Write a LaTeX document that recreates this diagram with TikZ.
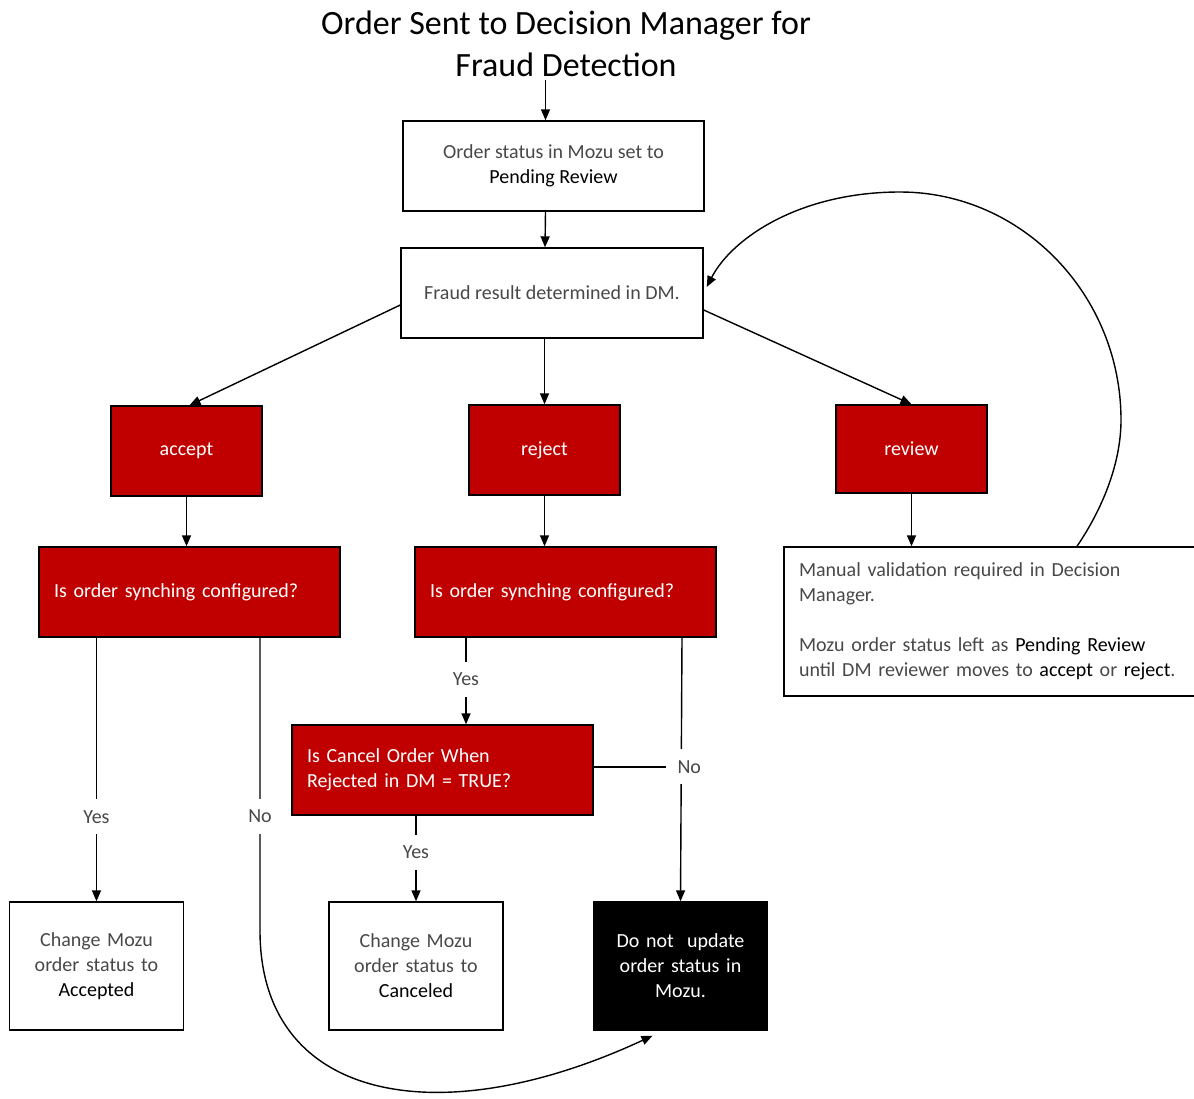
\documentclass[tikz,border=0pt]{standalone}
\usepackage{fontspec}
\setmainfont{Carlito}
\usetikzlibrary{
    positioning,      % below=of, etc.
    arrows.meta,      % Triangle tips
    calc
}
\definecolor{oraclered}{RGB}{192,0,0}
\definecolor{lighttext}{RGB}{72,72,72}
\newcommand{\keyword}[1]{\textcolor{black}{#1}}
\tikzset{
    box/.style={
        rectangle, draw, line width=1.4pt,
        minimum width=301pt, minimum height=90pt,
        align=center, inner sep=4pt, text=lighttext,
        font=\fontsize{20}{25}\selectfont
    },
    redbox/.style={
        box, fill=oraclered, text=white, minimum width=151pt
    },
    question/.style={
        box, fill=oraclered, text=white,
        align=left, text width=271pt, inner xsep=15pt
    },
    endbox/.style={
        box, minimum width=174pt, minimum height=128pt, text width=150pt
    },
    flow/.style={
        -{Triangle[length=11pt,width=9pt]}, line width=1.4pt
    },
    link/.style={
        line width=1.4pt
    },
    answer/.style={
        font=\fontsize{20}{25}\selectfont, text=lighttext,
        fill=white, inner sep=11pt
    }
}

\begin{document}
\begin{tikzpicture}[x=1pt, y=-1pt]
    \useasboundingbox (0,0) rectangle (1194,1098);

    % titulo y cabecera
    \node[font=\fontsize{34}{42}\selectfont, align=center] (title) at (566,44)
        {Order Sent to Decision Manager for\\Fraud Detection};
    \node[box] (order) at (553.5,166) {Order status in Mozu set to\\\keyword{Pending Review}};
    \node[box, minimum width=302pt] (fraud) at (552,293) {Fraud result determined in DM.};

    % resultados
    \node[redbox] (accept) at (186.5,451) {\raisebox{-3pt}{accept}};
    \node[redbox] (reject) at (544.5,450) {\raisebox{-2pt}{reject}};
    \node[redbox, minimum height=88pt] (review) at (911.5,449) {\raisebox{-2pt}{review}};

    % preguntas
    \node[question] (syncA)  at (189.5,592) {Is order synching configured?};
    \node[question] (syncR)  at (565.5,592) {Is order synching configured?};
    \node[question] (cancel) at (442.5,770) {Is Cancel Order When\\Rejected in DM = TRUE?};
    \node[box, align=left, text width=382pt, inner xsep=15pt, minimum height=149pt] (note) at (990,621.5)
        {Manual validation required in Decision\\Manager.\\[25pt]
         Mozu order status left as \keyword{Pending Review}\\
         until DM reviewer moves to \keyword{accept} or \keyword{reject}.};

    % estados finales
    \node[endbox] (accepted) at (96.5,966) {Change Mozu\\order status to\\\keyword{Accepted}};
    \node[endbox] (canceled) at (416,966)  {Change Mozu\\order status to\\\keyword{Canceled}};
    \node[endbox, fill=black, text=white] (noupdate) at (680.5,966) {Do not~ update\\order status in\\Mozu.};

    \draw[flow] ([xshift=-8pt]order.north |- title.south) -- ([xshift=-8pt]order.north);
    \draw[flow] ([xshift=-8pt]order.south) -- ([xshift=-7pt]fraud.north);
    \draw[flow] ([yshift=-12pt]fraud.west) -- ([xshift=3pt]accept.north);
    \draw[flow] (reject.north |- fraud.south) -- (reject.north);
    \draw[flow] ([yshift=-17pt]fraud.east) -- (review.north);
    \draw[flow] (accept.south) -- (accept.south |- syncA.north);
    \draw[flow] (reject.south) -- (reject.south |- syncR.north);
    \draw[flow] (review.south) -- (review.south |- note.north);

    % accept: si / no
    \draw[flow] (accepted.north |- syncA.south) -- node[answer, pos=0.68] {Yes} (accepted.north);
    \draw[flow] ([xshift=70.5pt]syncA.south) -- node[answer, pos=0.61] {No} ++(0,293)
        .. controls +(0,170) and +(-215,100) .. ([xshift=-28pt,yshift=-5pt]noupdate.south);

    % reject: si / no
    \draw[flow] ([xshift=-99.5pt]syncR.south) -- node[answer, pos=0.48] {Yes}
        ([xshift=-99.5pt]syncR.south |- cancel.north);
    \draw[flow] ([xshift=116.5pt]syncR.south) -- (noupdate.north)
        node[answer, pos=0.49, xshift=8pt] (noR) {No};
    \draw[link] (noR.west -| cancel.east) -- (noR.west);
    \draw[flow] (canceled.north |- cancel.south) -- node[answer, pos=0.43] {Yes} (canceled.north);

    % revision manual vuelve a DM
    \draw[flow] ([xshift=87pt]note.north) .. controls (1105,505) and (1121,460) .. (1121,420)
        .. controls (1121,295) and (1022,192) .. (900,192)
        .. controls (800,192) and (732,238) .. ([xshift=3pt,yshift=6pt]fraud.east);
\end{tikzpicture}
\end{document}
